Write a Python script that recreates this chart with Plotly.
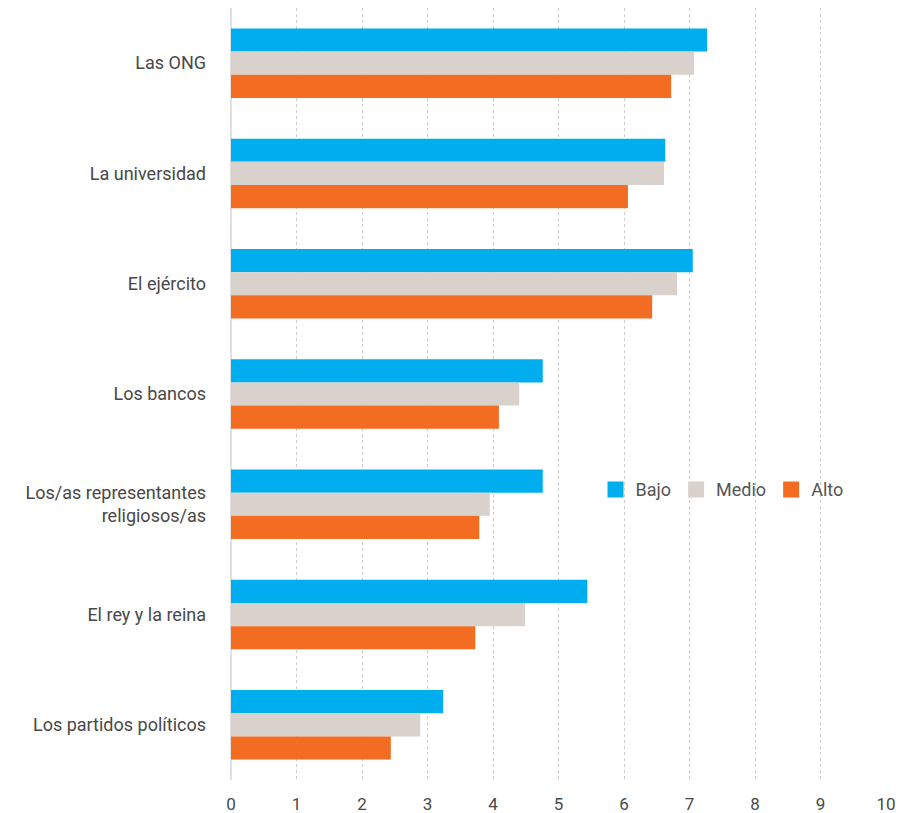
import plotly.graph_objects as go

categories = ["Las ONG", "La universidad", "El ejército", "Los bancos",
              "Los/as representantes<br>religiosos/as", "El rey y la reina",
              "Los partidos políticos"]
bajo = [7.27, 6.63, 7.05, 4.76, 4.76, 5.44, 3.24]
medio = [7.07, 6.61, 6.81, 4.40, 3.95, 4.49, 2.89]
alto = [6.72, 6.06, 6.43, 4.09, 3.79, 3.73, 2.44]
tick_vals = list(range(0, 11))

series = [("Bajo", bajo, "#00AEEF"), ("Medio", medio, "#D9D1CB"), ("Alto", alto, "#F26C22")]

fig = go.Figure()
for name, vals, col in series:
    fig.add_trace(go.Bar(y=categories, x=vals, name=name, orientation="h",
                         showlegend=False,
                         marker=dict(color=col, line=dict(width=0))))
for name, vals, col in series:
    fig.add_trace(go.Scatter(x=[None], y=[None], mode="markers", name=name,
                             marker=dict(symbol="square", size=17, color=col)))

fig.update_layout(
    width=917, height=813,
    barmode="group", bargap=0.37, bargroupgap=0,
    paper_bgcolor="white", plot_bgcolor="white",
    margin=dict(l=223, r=39, t=0, b=41, autoexpand=False),
    font=dict(family="Roboto, Arial, sans-serif", color="#484848", size=18),
    legend=dict(orientation="h", x=0.5565, y=0.376, xanchor="left", yanchor="middle",
                bgcolor="rgba(0,0,0,0)", font=dict(size=18, color="#555555"),
                itemwidth=30, traceorder="normal"),
    xaxis=dict(range=[0, 10], tickvals=tick_vals, showgrid=True, gridcolor="#cccccc",
               griddash="3px,3px", gridwidth=1, zeroline=True, zerolinecolor="#e0e0e0",
               zerolinewidth=2, ticks="", tickfont=dict(size=17, color="#484848"),
               ticklabelstandoff=12, showline=False, fixedrange=True),
    yaxis=dict(autorange="reversed", showgrid=False, ticks="", ticklabelstandoff=24,
               tickfont=dict(size=18, color="#484848"), showline=False),
)
fig.write_html("out.html")
